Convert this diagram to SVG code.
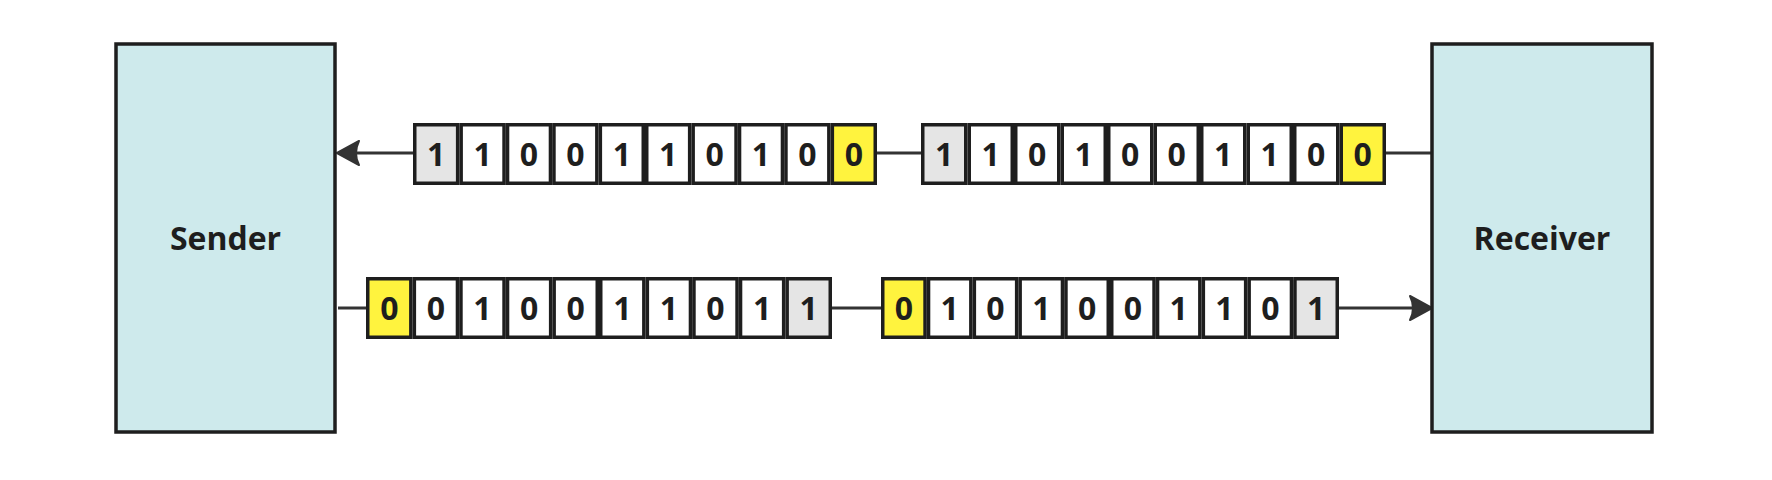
<svg xmlns="http://www.w3.org/2000/svg" width="1772" height="480" viewBox="0 0 1772 480">
  <defs>
    <marker id="arrow" viewBox="-26 -15 30 30" refX="-3" refY="0" markerWidth="30" markerHeight="30" markerUnits="userSpaceOnUse" orient="auto">
      <path d="M0,0 L-22,-12 Q-16,0 -22,12 Z" fill="#333333" stroke="#333333" stroke-width="2" stroke-linejoin="round"/>
    </marker>
  </defs>
  <style>
    .box { fill: #ceeaec; stroke: #1e1e1e; stroke-width: 3.5; }
    .lbl { font-family: "Open Sans", "Noto Sans", "Liberation Sans", sans-serif; font-size: 32px; font-weight: 700; fill: #1e1e1e; text-anchor: middle; }
    .c { fill: #ffffff; stroke: #1e1e1e; stroke-width: 3.5; }
    .g { fill: #e5e5e5; }
    .y { fill: #fff33e; }
    .d { font-family: "Open Sans", "Noto Sans", "Liberation Sans", sans-serif; font-size: 32px; font-weight: 700; fill: #1e1e1e; text-anchor: middle; }
    .conn { fill: none; stroke: #333333; stroke-width: 3; }
  </style>
  <rect x="0" y="0" width="1772" height="480" fill="#ffffff"/>

  <g id="connectors">
    <path class="conn" d="M1432,153 L1386,153"/>
    <path class="conn" d="M921,153 L877,153"/>
    <path class="conn" d="M413,153 L340,153" marker-end="url(#arrow)"/>
    <path class="conn" d="M338,308 L366,308"/>
    <path class="conn" d="M832,308 L881,308"/>
    <path class="conn" d="M1339,308 L1429,308" marker-end="url(#arrow)"/>
  </g>

  <g id="sender">
    <rect class="box" x="116" y="44" width="219" height="388"/>
    <text class="lbl" x="225.5" y="249.5">Sender</text>
  </g>

  <g id="receiver">
    <rect class="box" x="1432" y="44" width="220" height="388"/>
    <text class="lbl" x="1542" y="249.5">Receiver</text>
  </g>

  <g id="frame-top-1">
    <rect class="c g" x="414.75" y="124.75" width="42.9" height="58.5"/><text class="d" x="436.2" y="165.5">1</text>
    <rect class="c" x="461.15" y="124.75" width="42.9" height="58.5"/><text class="d" x="482.6" y="165.5">1</text>
    <rect class="c" x="507.55" y="124.75" width="42.9" height="58.5"/><text class="d" x="529.0" y="165.5">0</text>
    <rect class="c" x="553.95" y="124.75" width="42.9" height="58.5"/><text class="d" x="575.4" y="165.5">0</text>
    <rect class="c" x="600.35" y="124.75" width="42.9" height="58.5"/><text class="d" x="621.8" y="165.5">1</text>
    <rect class="c" x="646.75" y="124.75" width="42.9" height="58.5"/><text class="d" x="668.2" y="165.5">1</text>
    <rect class="c" x="693.15" y="124.75" width="42.9" height="58.5"/><text class="d" x="714.6" y="165.5">0</text>
    <rect class="c" x="739.55" y="124.75" width="42.9" height="58.5"/><text class="d" x="761.0" y="165.5">1</text>
    <rect class="c" x="785.95" y="124.75" width="42.9" height="58.5"/><text class="d" x="807.4" y="165.5">0</text>
    <rect class="c y" x="832.35" y="124.75" width="42.9" height="58.5"/><text class="d" x="853.8" y="165.5">0</text>
  </g>

  <g id="frame-top-2">
    <rect class="c g" x="922.75" y="124.75" width="43" height="58.5"/><text class="d" x="944.25" y="165.5">1</text>
    <rect class="c" x="969.25" y="124.75" width="43" height="58.5"/><text class="d" x="990.75" y="165.5">1</text>
    <rect class="c" x="1015.75" y="124.75" width="43" height="58.5"/><text class="d" x="1037.25" y="165.5">0</text>
    <rect class="c" x="1062.25" y="124.75" width="43" height="58.5"/><text class="d" x="1083.75" y="165.5">1</text>
    <rect class="c" x="1108.75" y="124.75" width="43" height="58.5"/><text class="d" x="1130.25" y="165.5">0</text>
    <rect class="c" x="1155.25" y="124.75" width="43" height="58.5"/><text class="d" x="1176.75" y="165.5">0</text>
    <rect class="c" x="1201.75" y="124.75" width="43" height="58.5"/><text class="d" x="1223.25" y="165.5">1</text>
    <rect class="c" x="1248.25" y="124.75" width="43" height="58.5"/><text class="d" x="1269.75" y="165.5">1</text>
    <rect class="c" x="1294.75" y="124.75" width="43" height="58.5"/><text class="d" x="1316.25" y="165.5">0</text>
    <rect class="c y" x="1341.25" y="124.75" width="43" height="58.5"/><text class="d" x="1362.75" y="165.5">0</text>
  </g>

  <g id="frame-bottom-1">
    <rect class="c y" x="367.75" y="278.75" width="43.1" height="58.5"/><text class="d" x="389.3" y="319.5">0</text>
    <rect class="c" x="414.35" y="278.75" width="43.1" height="58.5"/><text class="d" x="435.9" y="319.5">0</text>
    <rect class="c" x="460.95" y="278.75" width="43.1" height="58.5"/><text class="d" x="482.5" y="319.5">1</text>
    <rect class="c" x="507.55" y="278.75" width="43.1" height="58.5"/><text class="d" x="529.1" y="319.5">0</text>
    <rect class="c" x="554.15" y="278.75" width="43.1" height="58.5"/><text class="d" x="575.7" y="319.5">0</text>
    <rect class="c" x="600.75" y="278.75" width="43.1" height="58.5"/><text class="d" x="622.3" y="319.5">1</text>
    <rect class="c" x="647.35" y="278.75" width="43.1" height="58.5"/><text class="d" x="668.9" y="319.5">1</text>
    <rect class="c" x="693.95" y="278.75" width="43.1" height="58.5"/><text class="d" x="715.5" y="319.5">0</text>
    <rect class="c" x="740.55" y="278.75" width="43.1" height="58.5"/><text class="d" x="762.1" y="319.5">1</text>
    <rect class="c g" x="787.15" y="278.75" width="43.1" height="58.5"/><text class="d" x="808.7" y="319.5">1</text>
  </g>

  <g id="frame-bottom-2">
    <rect class="c y" x="882.75" y="278.75" width="42.3" height="58.5"/><text class="d" x="903.9" y="319.5">0</text>
    <rect class="c" x="928.55" y="278.75" width="42.3" height="58.5"/><text class="d" x="949.7" y="319.5">1</text>
    <rect class="c" x="974.35" y="278.75" width="42.3" height="58.5"/><text class="d" x="995.5" y="319.5">0</text>
    <rect class="c" x="1020.15" y="278.75" width="42.3" height="58.5"/><text class="d" x="1041.3" y="319.5">1</text>
    <rect class="c" x="1065.95" y="278.75" width="42.3" height="58.5"/><text class="d" x="1087.1" y="319.5">0</text>
    <rect class="c" x="1111.75" y="278.75" width="42.3" height="58.5"/><text class="d" x="1132.9" y="319.5">0</text>
    <rect class="c" x="1157.55" y="278.75" width="42.3" height="58.5"/><text class="d" x="1178.7" y="319.5">1</text>
    <rect class="c" x="1203.35" y="278.75" width="42.3" height="58.5"/><text class="d" x="1224.5" y="319.5">1</text>
    <rect class="c" x="1249.15" y="278.75" width="42.3" height="58.5"/><text class="d" x="1270.3" y="319.5">0</text>
    <rect class="c g" x="1294.95" y="278.75" width="42.3" height="58.5"/><text class="d" x="1316.1" y="319.5">1</text>
  </g>
</svg>
